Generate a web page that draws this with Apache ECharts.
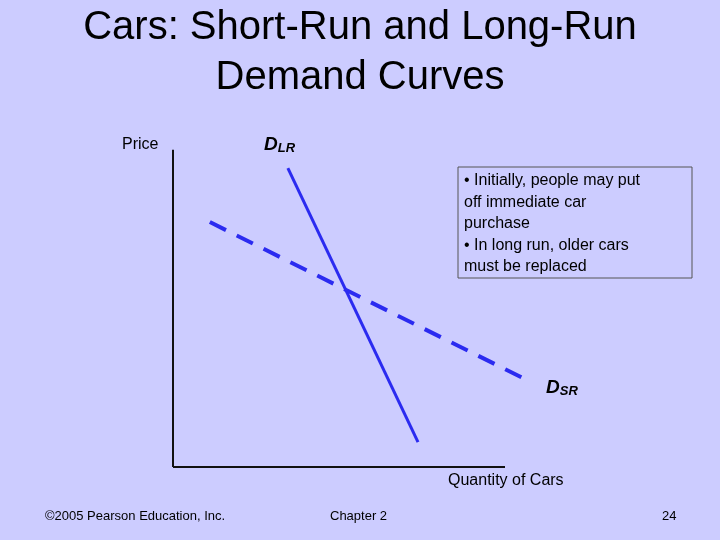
<!DOCTYPE html>
<html><head><meta charset="utf-8">
<script src="https://cdn.jsdelivr.net/npm/echarts@6/dist/echarts.min.js"></script>
<style>html,body{margin:0;background:#ccccff}#c{width:720px;height:540px}</style>
</head><body><div id="c"></div>
<script>
const dLR = [[3.46, 9.14], [7.38, 0.76]];
const dSR = [[1.11, 7.49], [10.66, 2.66]];
const xAxisLine = [[0, 0], [10, 0]];
const yAxisLine = [[0, 0], [0, 9.7]];
const chart = echarts.init(document.getElementById('c'));
const F = 'Liberation Sans, Arial, sans-serif';
chart.setOption({
  backgroundColor: '#ccccff',
  animation: false,
  grid: {left: 173, top: 140, width: 365.2, height: 327},
  xAxis: {type: 'value', min: 0, max: 11, show: false},
  yAxis: {type: 'value', min: 0, max: 10, show: false},
  series: [
    {type: 'line', data: xAxisLine, symbol: 'none', lineStyle: {color: '#111', width: 2}},
    {type: 'line', data: yAxisLine, symbol: 'none', lineStyle: {color: '#111', width: 2}},
    {type: 'line', data: dLR, symbol: 'none', lineStyle: {color: '#2b2bf0', width: 3}},
    {type: 'line', data: dSR, symbol: 'none', lineStyle: {color: '#2b2bf0', width: 4, type: [18, 12]}}
  ],
  graphic: [
    {type: 'text', left: 'center', top: 8, style: {text: 'Cars: Short-Run and Long-Run', font: '40px ' + F, fill: '#000'}},
    {type: 'text', left: 'center', top: 58, style: {text: 'Demand Curves', font: '40px ' + F, fill: '#000'}},
    {type: 'text', left: 122, top: 137, style: {text: 'Price', font: '16px ' + F, fill: '#000'}},
    {type: 'text', left: 264, top: 135, style: {rich: {a: {font: 'bold italic 19px ' + F}, b: {font: 'bold italic 13px ' + F, padding: [8, 0, 0, 0]}}, text: '{a|D}{b|LR}', fill: '#000'}},
    {type: 'text', left: 546, top: 378, style: {rich: {a: {font: 'bold italic 19px ' + F}, b: {font: 'bold italic 13px ' + F, padding: [8, 0, 0, 0]}}, text: '{a|D}{b|SR}', fill: '#000'}},
    {type: 'text', left: 448, top: 473, style: {text: 'Quantity of Cars', font: '16px ' + F, fill: '#000'}},
    {type: 'rect', shape: {x: 458, y: 167, width: 234, height: 111}, style: {fill: '#ccccff', stroke: '#555', lineWidth: 1}},
    {type: 'text', left: 464, top: 170, style: {text: '• Initially, people may put\noff immediate car\npurchase\n• In long run, older cars\nmust be replaced', font: '16px ' + F, fill: '#000', lineHeight: 21.5}},
    {type: 'text', left: 45, top: 510, style: {text: '©2005 Pearson Education, Inc.', font: '13px ' + F, fill: '#000'}},
    {type: 'text', left: 330, top: 510, style: {text: 'Chapter 2', font: '13px ' + F, fill: '#000'}},
    {type: 'text', left: 662, top: 510, style: {text: '24', font: '13px ' + F, fill: '#000'}}
  ]
});
</script></body></html>
